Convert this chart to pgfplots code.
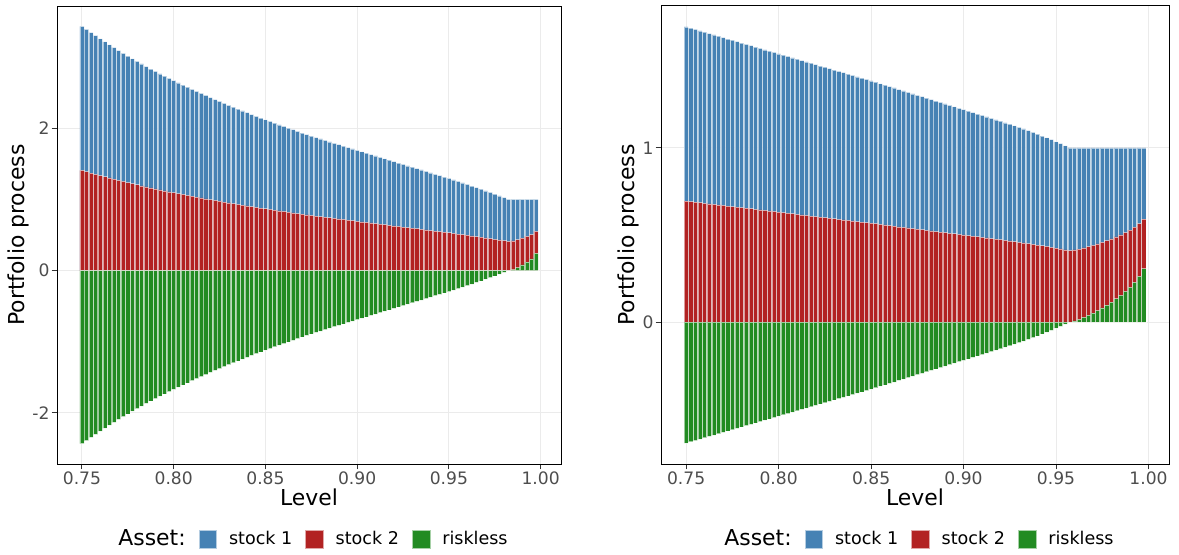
\documentclass[border=0pt]{standalone}
\usepackage{pgfplots}
\usepackage{pgfplotstable}
\pgfplotsset{compat=1.18}
\usepackage{fontspec}
\setmainfont{DejaVu Sans}
\definecolor{sblue}{HTML}{4682B4}
\definecolor{fred}{HTML}{B22222}
\definecolor{fgreen}{HTML}{228B22}
\definecolor{grey30}{HTML}{4D4D4D}
\definecolor{grey20}{HTML}{333333}
\definecolor{gridc}{HTML}{EBEBEB}

\pgfplotstableread{
x s1 s2 r
0.7500 2.027 1.408 -2.435
0.7525 2.000 1.390 -2.390
0.7550 1.974 1.371 -2.345
0.7575 1.948 1.354 -2.302
0.7600 1.923 1.336 -2.259
0.7625 1.898 1.319 -2.217
0.7650 1.873 1.302 -2.175
0.7675 1.849 1.285 -2.134
0.7700 1.825 1.269 -2.094
0.7725 1.802 1.253 -2.055
0.7750 1.779 1.237 -2.016
0.7775 1.757 1.221 -1.978
0.7800 1.735 1.206 -1.941
0.7825 1.714 1.191 -1.905
0.7850 1.693 1.176 -1.869
0.7875 1.672 1.162 -1.834
0.7900 1.652 1.148 -1.800
0.7925 1.632 1.134 -1.766
0.7950 1.612 1.121 -1.733
0.7975 1.594 1.107 -1.701
0.8000 1.575 1.095 -1.670
0.8025 1.557 1.082 -1.639
0.8050 1.539 1.070 -1.609
0.8075 1.522 1.057 -1.579
0.8100 1.504 1.045 -1.549
0.8125 1.486 1.033 -1.519
0.8150 1.469 1.021 -1.490
0.8175 1.453 1.009 -1.462
0.8200 1.435 0.998 -1.433
0.8225 1.419 0.986 -1.405
0.8250 1.403 0.975 -1.378
0.8275 1.386 0.964 -1.350
0.8300 1.371 0.952 -1.323
0.8325 1.355 0.942 -1.297
0.8350 1.339 0.931 -1.270
0.8375 1.324 0.920 -1.244
0.8400 1.309 0.910 -1.219
0.8425 1.294 0.900 -1.194
0.8450 1.280 0.889 -1.169
0.8475 1.265 0.879 -1.144
0.8500 1.251 0.869 -1.120
0.8525 1.237 0.859 -1.096
0.8550 1.222 0.850 -1.072
0.8575 1.209 0.840 -1.049
0.8600 1.195 0.831 -1.026
0.8625 1.182 0.821 -1.003
0.8650 1.168 0.812 -0.980
0.8675 1.155 0.802 -0.957
0.8700 1.141 0.793 -0.934
0.8725 1.128 0.784 -0.912
0.8750 1.115 0.775 -0.890
0.8775 1.103 0.767 -0.870
0.8800 1.091 0.759 -0.850
0.8825 1.080 0.750 -0.830
0.8850 1.068 0.742 -0.810
0.8875 1.056 0.734 -0.790
0.8900 1.044 0.726 -0.770
0.8925 1.032 0.718 -0.750
0.8950 1.021 0.709 -0.730
0.8975 1.009 0.701 -0.710
0.9000 0.997 0.693 -0.690
0.9025 0.985 0.685 -0.670
0.9050 0.974 0.677 -0.651
0.9075 0.962 0.669 -0.631
0.9100 0.950 0.661 -0.611
0.9125 0.939 0.652 -0.591
0.9150 0.927 0.645 -0.572
0.9175 0.916 0.636 -0.552
0.9200 0.904 0.628 -0.532
0.9225 0.892 0.620 -0.512
0.9250 0.881 0.612 -0.493
0.9275 0.869 0.604 -0.473
0.9300 0.857 0.596 -0.453
0.9325 0.845 0.588 -0.433
0.9350 0.834 0.580 -0.414
0.9375 0.822 0.572 -0.394
0.9400 0.811 0.563 -0.374
0.9425 0.799 0.555 -0.354
0.9450 0.788 0.547 -0.335
0.9475 0.776 0.539 -0.315
0.9500 0.764 0.531 -0.295
0.9525 0.752 0.523 -0.275
0.9550 0.740 0.514 -0.254
0.9575 0.727 0.505 -0.232
0.9600 0.714 0.497 -0.211
0.9625 0.702 0.487 -0.189
0.9650 0.689 0.478 -0.167
0.9675 0.675 0.469 -0.144
0.9700 0.661 0.460 -0.121
0.9725 0.648 0.450 -0.098
0.9750 0.634 0.440 -0.074
0.9775 0.619 0.431 -0.050
0.9800 0.605 0.420 -0.025
0.9825 0.590 0.410 0.000
0.9850 0.582 0.404 0.014
0.9875 0.565 0.393 0.042
0.9900 0.543 0.377 0.080
0.9925 0.519 0.361 0.120
0.9950 0.493 0.342 0.165
0.9975 0.448 0.312 0.240
}\leftdata

\pgfplotstableread{
x s1 s2 r
0.7500 1.000 0.695 -0.695
0.7525 0.995 0.692 -0.687
0.7550 0.991 0.689 -0.680
0.7575 0.986 0.686 -0.672
0.7600 0.982 0.682 -0.664
0.7625 0.977 0.679 -0.656
0.7650 0.973 0.676 -0.649
0.7675 0.968 0.673 -0.641
0.7700 0.963 0.670 -0.633
0.7725 0.959 0.666 -0.625
0.7750 0.955 0.663 -0.618
0.7775 0.950 0.660 -0.610
0.7800 0.945 0.657 -0.602
0.7825 0.940 0.654 -0.594
0.7850 0.936 0.651 -0.587
0.7875 0.932 0.647 -0.579
0.7900 0.927 0.644 -0.571
0.7925 0.922 0.641 -0.563
0.7950 0.918 0.638 -0.556
0.7975 0.913 0.635 -0.548
0.8000 0.909 0.631 -0.540
0.8025 0.904 0.628 -0.532
0.8050 0.900 0.625 -0.525
0.8075 0.895 0.622 -0.517
0.8100 0.890 0.619 -0.509
0.8125 0.886 0.615 -0.501
0.8150 0.881 0.613 -0.494
0.8175 0.877 0.609 -0.486
0.8200 0.872 0.606 -0.478
0.8225 0.867 0.603 -0.470
0.8250 0.863 0.600 -0.463
0.8275 0.858 0.597 -0.455
0.8300 0.854 0.593 -0.447
0.8325 0.849 0.590 -0.439
0.8350 0.845 0.587 -0.432
0.8375 0.840 0.584 -0.424
0.8400 0.835 0.581 -0.416
0.8425 0.831 0.577 -0.408
0.8450 0.827 0.574 -0.401
0.8475 0.822 0.571 -0.393
0.8500 0.817 0.568 -0.385
0.8525 0.812 0.565 -0.377
0.8550 0.807 0.561 -0.368
0.8575 0.802 0.558 -0.360
0.8600 0.798 0.554 -0.352
0.8625 0.793 0.551 -0.344
0.8650 0.788 0.547 -0.335
0.8675 0.783 0.544 -0.327
0.8700 0.778 0.541 -0.319
0.8725 0.773 0.537 -0.310
0.8750 0.768 0.534 -0.302
0.8775 0.763 0.531 -0.294
0.8800 0.758 0.527 -0.285
0.8825 0.753 0.524 -0.277
0.8850 0.749 0.520 -0.269
0.8875 0.744 0.517 -0.261
0.8900 0.739 0.513 -0.252
0.8925 0.734 0.510 -0.244
0.8950 0.729 0.507 -0.236
0.8975 0.724 0.503 -0.227
0.9000 0.719 0.500 -0.219
0.9025 0.714 0.497 -0.211
0.9050 0.709 0.493 -0.202
0.9075 0.704 0.490 -0.194
0.9100 0.700 0.486 -0.186
0.9125 0.695 0.483 -0.178
0.9150 0.690 0.479 -0.169
0.9175 0.685 0.476 -0.161
0.9200 0.680 0.473 -0.153
0.9225 0.675 0.469 -0.144
0.9250 0.670 0.466 -0.136
0.9275 0.665 0.462 -0.127
0.9300 0.660 0.458 -0.118
0.9325 0.654 0.455 -0.109
0.9350 0.648 0.451 -0.099
0.9375 0.643 0.446 -0.089
0.9400 0.637 0.442 -0.079
0.9425 0.630 0.438 -0.068
0.9450 0.624 0.434 -0.058
0.9475 0.618 0.429 -0.047
0.9500 0.611 0.424 -0.035
0.9525 0.604 0.420 -0.024
0.9550 0.597 0.415 -0.012
0.9575 0.590 0.410 0.000
0.9600 0.586 0.407 0.007
0.9625 0.581 0.403 0.016
0.9650 0.574 0.399 0.027
0.9675 0.567 0.394 0.039
0.9700 0.559 0.389 0.052
0.9725 0.551 0.383 0.066
0.9750 0.542 0.377 0.081
0.9775 0.533 0.370 0.097
0.9800 0.522 0.363 0.115
0.9825 0.511 0.355 0.134
0.9850 0.499 0.347 0.154
0.9875 0.486 0.338 0.176
0.9900 0.472 0.328 0.200
0.9925 0.455 0.317 0.228
0.9950 0.435 0.303 0.262
0.9975 0.409 0.285 0.306
}\rightdata

\pgfplotsset{
  myaxis/.style={
    scale only axis,
    anchor=south west,
    height=229bp,
    xmin=0.7364, xmax=1.0111,
    axis line style={black, line width=0.5bp},
    grid=major,
    major grid style={gridc, line width=0.5bp},
    tick align=outside,
    major tick length=2.7bp,
    tick style={grey20, line width=0.5bp},
    xtick={0.75,0.80,0.85,0.90,0.95,1.00},
    xticklabels={0.75,0.80,0.85,0.90,0.95,1.00},
    tick label style={font=\fontsize{8.6}{10}\selectfont, text=grey30},
    xticklabel style={yshift=2.5bp},
    yticklabel style={xshift=2.5bp},
    xtick pos=bottom, ytick pos=left,
    xlabel={Level},
    ylabel={Portfolio process},
    label style={font=\fontsize{11}{13}\selectfont},
    xlabel style={at={(axis description cs:0.5,-0.072)}, anchor=center},
    legend style={draw=none, fill=none, anchor=center, legend columns=-1,
      font=\fontsize{8.8}{10}\selectfont,
      /tikz/every odd column/.append style={column sep=4bp},
      /tikz/every even column/.append style={column sep=4.5bp}},
  },
  bars/.style={ybar, bar width=0.00225, bar shift=0pt, draw=white, draw opacity=0.55, line width=0.3bp, forget plot},
}

\begin{document}
\begin{tikzpicture}
\useasboundingbox (0,0) rectangle (589.5bp,277.5bp);

\begin{axis}[myaxis,
  at={(28.5bp,45.5bp)}, width=252bp,
  ymin=-2.72, ymax=3.72,
  ytick={-2,0,2}, yticklabels={-2,0,2},
  ylabel style={at={(axis description cs:-0.077,0.5)}, anchor=center},
  legend style={at={(axis description cs:0.5,-0.164)}},
]
\addplot[bars, fill=sblue] table[x=x, y expr={\thisrow{s1}+\thisrow{s2}+max(\thisrow{r},0)}] {\leftdata};
\addplot[bars, fill=fred] table[x=x, y expr={\thisrow{s2}+max(\thisrow{r},0)}] {\leftdata};
\addplot[bars, fill=fgreen] table[x=x, y=r] {\leftdata};
\addlegendimage{empty legend}
\addlegendentry{\fontsize{11}{13}\selectfont Asset:}
\addlegendimage{legend image code/.code={\draw[fill=sblue, draw=white!60!sblue, line width=0.4bp] (0bp,-4.4bp) rectangle (8.8bp,4.4bp);}}
\addlegendentry{stock 1}
\addlegendimage{legend image code/.code={\draw[fill=fred, draw=white!60!fred, line width=0.4bp] (0bp,-4.4bp) rectangle (8.8bp,4.4bp);}}
\addlegendentry{stock 2}
\addlegendimage{legend image code/.code={\draw[fill=fgreen, draw=white!60!fgreen, line width=0.4bp] (0bp,-4.4bp) rectangle (8.8bp,4.4bp);}}
\addlegendentry{riskless}
\end{axis}

\begin{axis}[myaxis,
  at={(330.5bp,45.5bp)}, width=254bp,
  ymin=-0.8145, ymax=1.8145,
  ytick={0,1}, yticklabels={0,1},
  ylabel style={at={(axis description cs:-0.065,0.5)}, anchor=center},
  legend style={at={(axis description cs:0.5,-0.164)}},
]
\addplot[bars, fill=sblue] table[x=x, y expr={\thisrow{s1}+\thisrow{s2}+max(\thisrow{r},0)}] {\rightdata};
\addplot[bars, fill=fred] table[x=x, y expr={\thisrow{s2}+max(\thisrow{r},0)}] {\rightdata};
\addplot[bars, fill=fgreen] table[x=x, y=r] {\rightdata};
\addlegendimage{empty legend}
\addlegendentry{\fontsize{11}{13}\selectfont Asset:}
\addlegendimage{legend image code/.code={\draw[fill=sblue, draw=white!60!sblue, line width=0.4bp] (0bp,-4.4bp) rectangle (8.8bp,4.4bp);}}
\addlegendentry{stock 1}
\addlegendimage{legend image code/.code={\draw[fill=fred, draw=white!60!fred, line width=0.4bp] (0bp,-4.4bp) rectangle (8.8bp,4.4bp);}}
\addlegendentry{stock 2}
\addlegendimage{legend image code/.code={\draw[fill=fgreen, draw=white!60!fgreen, line width=0.4bp] (0bp,-4.4bp) rectangle (8.8bp,4.4bp);}}
\addlegendentry{riskless}
\end{axis}
\end{tikzpicture}
\end{document}
